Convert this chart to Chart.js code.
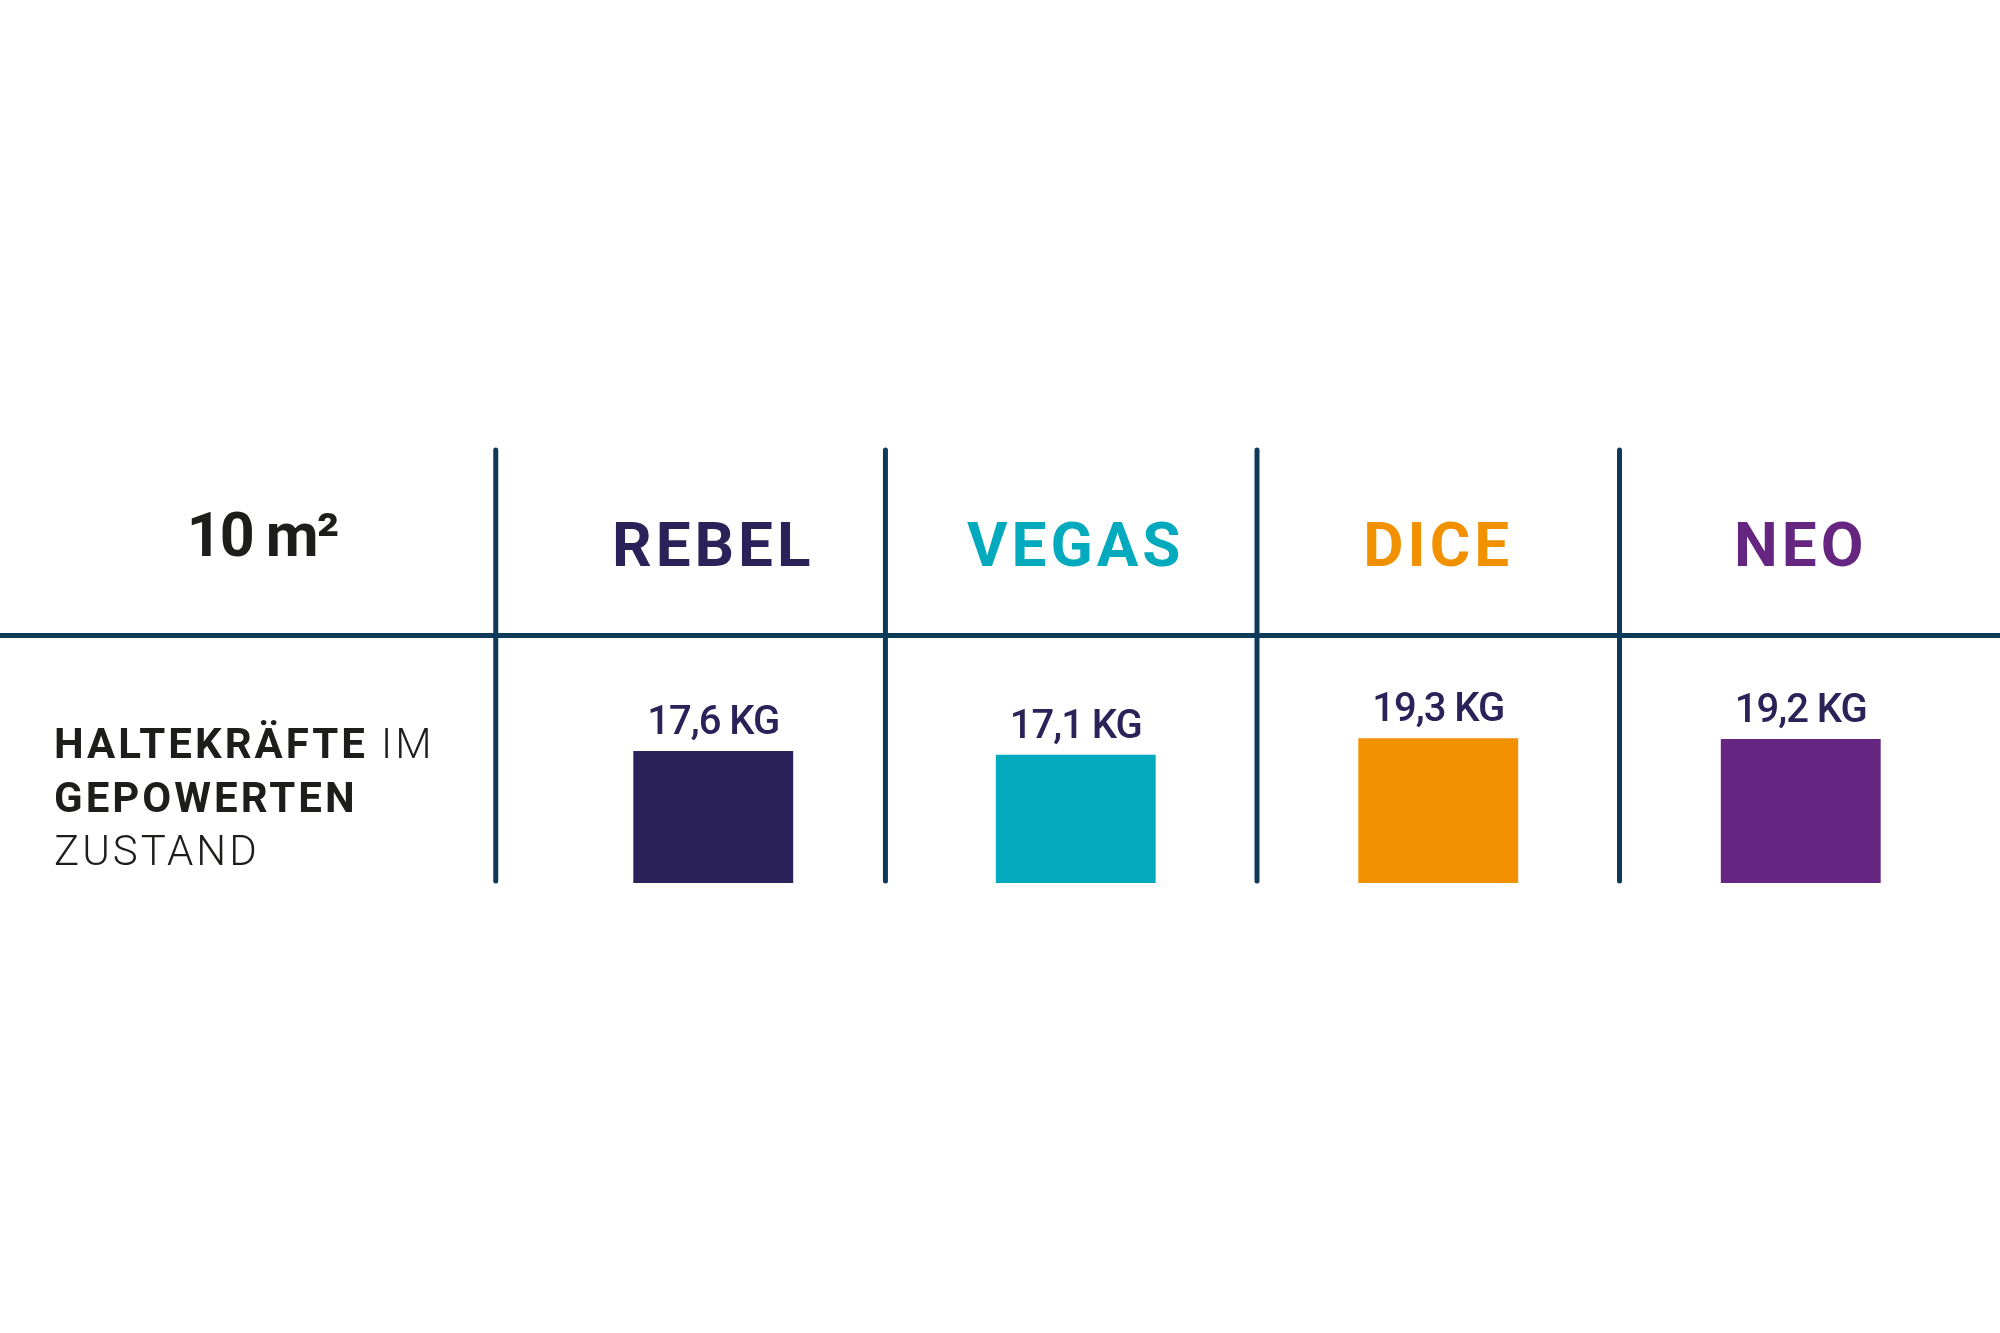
<!DOCTYPE html>
<html lang="de">
<head>
<meta charset="utf-8">
<title>Haltekräfte 10 m²</title>
<script src="https://cdn.jsdelivr.net/npm/chart.js@4.4.0/dist/chart.umd.min.js"></script>
<style>
  html, body { margin: 0; padding: 0; background: #fff; }
  #wrap { width: 2000px; height: 1333px; position: relative; }
</style>
</head>
<body>
<div id="wrap"><canvas id="holdChart"></canvas></div>
<script>
// Kite models and their holding force (kg) in the powered state, 10 m² size
const models = ['REBEL', 'VEGAS', 'DICE', 'NEO'];
const holdingForce = [17.6, 17.1, 19.3, 19.2];
const modelColors = ['#2b2259', '#03a9bc', '#f29100', '#662580'];
const sizeLabel = '10 m²';
const rowLabelLines = [
    [['HALTEKRÄFTE', 700], [' IM', 300]],
    [['GEPOWERTEN', 700]],
    [['ZUSTAND', 300]]
];

const LINE_COLOR = '#0e3a5a';
const TEXT_DARK = '#1d1d1b';
const VALUE_COLOR = '#2a2258';
const FONT = 'Roboto, "Noto Sans", sans-serif';
// where each separator sits left of its column centre, in category widths
const sepOffset = [0.6, 0.525, 0.5, 0.5];

const tableDecor = {
    id: 'tableDecor',
    beforeDraw(chart) {
        const { ctx, chartArea, scales: { x } } = chart;
        const step = x.getPixelForValue(1) - x.getPixelForValue(0);

        ctx.save();
        ctx.strokeStyle = LINE_COLOR;
        ctx.lineWidth = 5;
        ctx.lineCap = 'round';

        // header / body divider
        ctx.beginPath();
        ctx.moveTo(0, chartArea.top);
        ctx.lineTo(chart.width, chartArea.top);
        ctx.stroke();

        // column separators
        models.forEach((_, i) => {
            const px = x.getPixelForValue(i) - step * sepOffset[i];
            ctx.beginPath();
            ctx.moveTo(px, x.top - 15);
            ctx.lineTo(px, chartArea.bottom - 2);
            ctx.stroke();
        });

        // size in the header cell
        ctx.fillStyle = TEXT_DARK;
        ctx.textAlign = 'center';
        ctx.textBaseline = 'alphabetic';
        ctx.font = `700 61px ${FONT}`;
        ctx.letterSpacing = '-2px';
        ctx.fillText(sizeLabel, 262, 556);

        // row label
        ctx.textAlign = 'left';
        ctx.letterSpacing = '3px';
        rowLabelLines.forEach((parts, li) => {
            let cx = 54;
            const y = 758 + li * 53.5;
            parts.forEach(([txt, weight]) => {
                ctx.font = `${weight} 42px ${FONT}`;
                ctx.fillText(txt, cx, y);
                cx += ctx.measureText(txt).width;
            });
        });
        ctx.restore();

        // spacing for the model names on the top axis
        ctx.letterSpacing = '4px';
    },
    beforeDatasetsDraw(chart) {
        chart.ctx.letterSpacing = '0px';
    },
    afterDatasetsDraw(chart) {
        const { ctx } = chart;
        const meta = chart.getDatasetMeta(0);
        ctx.save();
        ctx.fillStyle = VALUE_COLOR;
        ctx.font = `500 40px ${FONT}`;
        ctx.letterSpacing = '-1px';
        ctx.textAlign = 'center';
        ctx.textBaseline = 'alphabetic';
        meta.data.forEach((bar, i) => {
            const txt = holdingForce[i].toLocaleString('de-DE', { minimumFractionDigits: 1 }) + ' KG';
            ctx.fillText(txt, bar.x, bar.y - 17);
        });
        ctx.restore();
    }
};

new Chart(document.getElementById('holdChart'), {
    type: 'bar',
    data: {
        labels: models,
        datasets: [{
            data: holdingForce,
            backgroundColor: modelColors,
            borderWidth: 0,
            barPercentage: 0.441,
            categoryPercentage: 1
        }]
    },
    options: {
        responsive: true,
        maintainAspectRatio: false,
        animation: false,
        layout: { padding: { left: 532, right: 18, top: 465, bottom: 450 } },
        plugins: {
            legend: { display: false },
            tooltip: { enabled: false }
        },
        scales: {
            x: {
                position: 'top',
                grid: { display: false, drawTicks: false },
                border: { display: false },
                ticks: {
                    padding: 48,
                    autoSkip: false,
                    maxRotation: 0,
                    font: { family: FONT, size: 62, weight: 700 },
                    color: (c) => modelColors[c.index]
                }
            },
            y: {
                display: false,
                min: 0,
                max: 33
            }
        }
    },
    plugins: [tableDecor]
});
</script>
</body>
</html>
